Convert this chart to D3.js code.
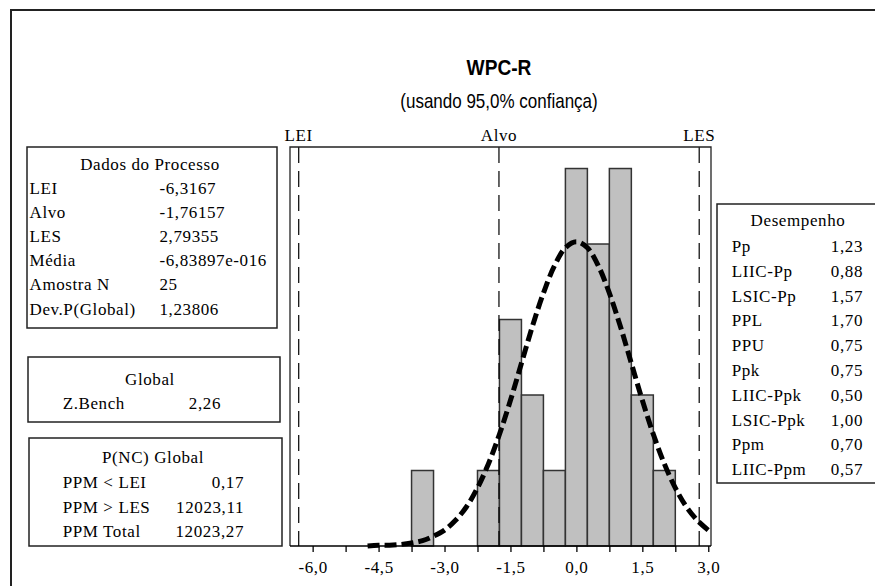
<!DOCTYPE html>
<html>
<head>
<meta charset="utf-8">
<script src="https://cdn.jsdelivr.net/npm/d3@7"></script>
<style>
  html, body { margin: 0; padding: 0; background: #fff; }
  svg { display: block; }
  .serif { font-family: "Liberation Serif", "Times New Roman", serif; font-size: 17px; letter-spacing: 0.6px; fill: #000; }
  .sans { font-family: "Liberation Sans", Arial, sans-serif; fill: #000; }
</style>
</head>
<body>
<script>
// ---- data ----
const binStart = [-3.75, -2.25, -1.75, -1.25, -0.75, -0.25, 0.25, 0.75, 1.25, 1.75];
const binEnd   = [-3.25, -1.75, -1.25, -0.75, -0.25, 0.25, 0.75, 1.25, 1.75, 2.25];
const counts   = [1, 1, 3, 2, 1, 5, 4, 5, 2, 1];

// fitted normal curve, heights (in counts)
const curveX = [-4.75,-4.5,-4.25,-4.0,-3.75,-3.5,-3.25,-3.0,-2.75,-2.5,-2.25,-2.0,-1.75,-1.5,-1.25,-1.0,-0.75,-0.5,-0.25,0,
                 0.25,0.5,0.75,1.0,1.25,1.5,1.75,2.0,2.25,2.5,2.75,3.0];
const curveY = [0.00,0.01,0.01,0.02,0.04,0.07,0.13,0.21,0.34,0.52,0.77,1.09,1.48,1.93,2.42,2.91,3.35,3.71,3.95,4.03,
                 3.95,3.71,3.35,2.91,2.42,1.93,1.48,1.09,0.77,0.52,0.34,0.21];

const specNames  = ["LEI", "Alvo", "LES"];
const specValues = [-6.3167, -1.76157, 2.79355];

const majorTicks = [-6.0, -4.5, -3.0, -1.5, 0.0, 1.5, 3.0];
const minorTicks = [-6.0,-5.25,-4.5,-3.75,-3.0,-2.25,-1.5,-0.75,0,0.75,1.5,2.25,3.0];

const procTitle  = "Dados do Processo";
const procLabels = ["LEI", "Alvo", "LES", "Média", "Amostra N", "Dev.P(Global)"];
const procValues = ["-6,3167", "-1,76157", "2,79355", "-6,83897e-016", "25", "1,23806"];

const globTitle  = "Global";
const globLabels = ["Z.Bench"];
const globValues = ["2,26"];

const ppmTitle  = "P(NC) Global";
const ppmLabels = ["PPM < LEI", "PPM > LES", "PPM Total"];
const ppmValues = ["0,17", "12023,11", "12023,27"];

const perfTitle  = "Desempenho";
const perfLabels = ["Pp", "LIIC-Pp", "LSIC-Pp", "PPL", "PPU", "Ppk", "LIIC-Ppk", "LSIC-Ppk", "Ppm", "LIIC-Ppm"];
const perfValues = ["1,23", "0,88", "1,57", "1,70", "0,75", "0,75", "0,50", "1,00", "0,70", "0,57"];

const titleText = "WPC-R";
const subtitleText = "(usando 95,0% confiança)";

// ---- drawing ----
const W = 875, H = 586;
const svg = d3.select("body").append("svg").attr("width", W).attr("height", H);

// outer frame
svg.append("rect").attr("x", 11).attr("y", 10).attr("width", 900).attr("height", 620)
  .attr("fill", "none").attr("stroke", "#222").attr("stroke-width", 2);

const plot = {left: 290, right: 711, top: 147, bottom: 546};
const x = d3.scaleLinear().domain([-6.515, 3.062]).range([plot.left, plot.right]);
const y = d3.scaleLinear().domain([0, 5.285]).range([plot.bottom, plot.top]);
const fmt = v => d3.format(".1f")(v).replace("−", "-").replace(".", ",");

// title (condensed look)
svg.append("text").attr("class", "sans").attr("transform", "translate(499,75) scale(0.87,1)")
  .attr("text-anchor", "middle").attr("font-size", 22).attr("font-weight", "bold").text(titleText);
svg.append("text").attr("class", "sans").attr("transform", "translate(499,108) scale(0.85,1)")
  .attr("text-anchor", "middle").attr("font-size", 20).text(subtitleText);

// bars
svg.append("g").selectAll("rect").data(counts).join("rect")
  .attr("x", (d, i) => x(binStart[i]))
  .attr("width", (d, i) => x(binEnd[i]) - x(binStart[i]))
  .attr("y", d => y(d))
  .attr("height", d => y(0) - y(d))
  .attr("fill", "#c0c0c0").attr("stroke", "#333").attr("stroke-width", 1.5);

// spec lines
specValues.forEach((v, i) => {
  svg.append("line").attr("x1", x(v)).attr("x2", x(v)).attr("y1", plot.top).attr("y2", plot.bottom)
    .attr("stroke", "#000").attr("stroke-width", 1.2).attr("stroke-dasharray", "16,8");
  svg.append("text").attr("class", "serif").attr("x", x(v)).attr("y", 141)
    .attr("text-anchor", "middle").text(specNames[i]);
});

// fitted curve
const line = d3.line().x((d, i) => x(curveX[i])).y(d => y(d)).curve(d3.curveCatmullRom);
svg.append("path").attr("d", line(curveY)).attr("fill", "none")
  .attr("stroke", "#000").attr("stroke-width", 5).attr("stroke-dasharray", "12,5");

// plot frame
svg.append("path")
  .attr("d", `M${plot.left},${plot.bottom}V${plot.top}H${plot.right}V${plot.bottom}`)
  .attr("fill", "none").attr("stroke", "#222").attr("stroke-width", 1.3);

// x axis
const axis = d3.axisBottom(x).tickValues(minorTicks).tickSize(6).tickFormat(v => majorTicks.includes(v) ? fmt(v) : "");
const gx = svg.append("g").attr("transform", `translate(0,${plot.bottom})`).call(axis);
gx.attr("font-family", null).attr("font-size", null);
gx.select(".domain").attr("d", `M${plot.left},0H${plot.right}`).attr("stroke", "#000").attr("stroke-width", 1.5);
gx.selectAll(".tick line").attr("stroke", "#000").attr("stroke-width", 1.3);
gx.selectAll(".tick text").attr("class", "serif").attr("dy", null).attr("y", 27).attr("fill", "#000");

// info boxes
function box(x0, y0, x1, y1) {
  svg.append("rect").attr("x", x0).attr("y", y0).attr("width", x1 - x0).attr("height", y1 - y0)
    .attr("fill", "#fff").attr("stroke", "#222").attr("stroke-width", 1.5);
}
function txt(tx, ty, s, anchor) {
  svg.append("text").attr("class", "serif").attr("x", tx).attr("y", ty)
    .attr("text-anchor", anchor || "start").text(s);
}

// Dados do Processo
box(27, 147, 277, 328);
txt(150, 169.5, procTitle, "middle");
procLabels.forEach((s, i) => {
  const by = 193.5 + i * 24.2;
  txt(29.5, by, s);
  txt(159.5, by, procValues[i]);
});

// Global
box(28, 357, 280, 422);
txt(150, 384.5, globTitle, "middle");
globLabels.forEach((s, i) => {
  txt(62.7, 408.5 + i * 24, s);
  txt(221, 408.5 + i * 24, globValues[i], "end");
});

// P(NC) Global
box(29, 438, 282, 546);
txt(153, 462.5, ppmTitle, "middle");
ppmLabels.forEach((s, i) => {
  const by = 488 + i * 24.6;
  txt(62.7, by, s);
  txt(244, by, ppmValues[i], "end");
});

// Desempenho
box(717, 204, 900, 483);
txt(798, 225.5, perfTitle, "middle");
perfLabels.forEach((s, i) => {
  const by = 252 + i * 24.8;
  txt(731.7, by, s);
  txt(863, by, perfValues[i], "end");
});
</script>
</body>
</html>
